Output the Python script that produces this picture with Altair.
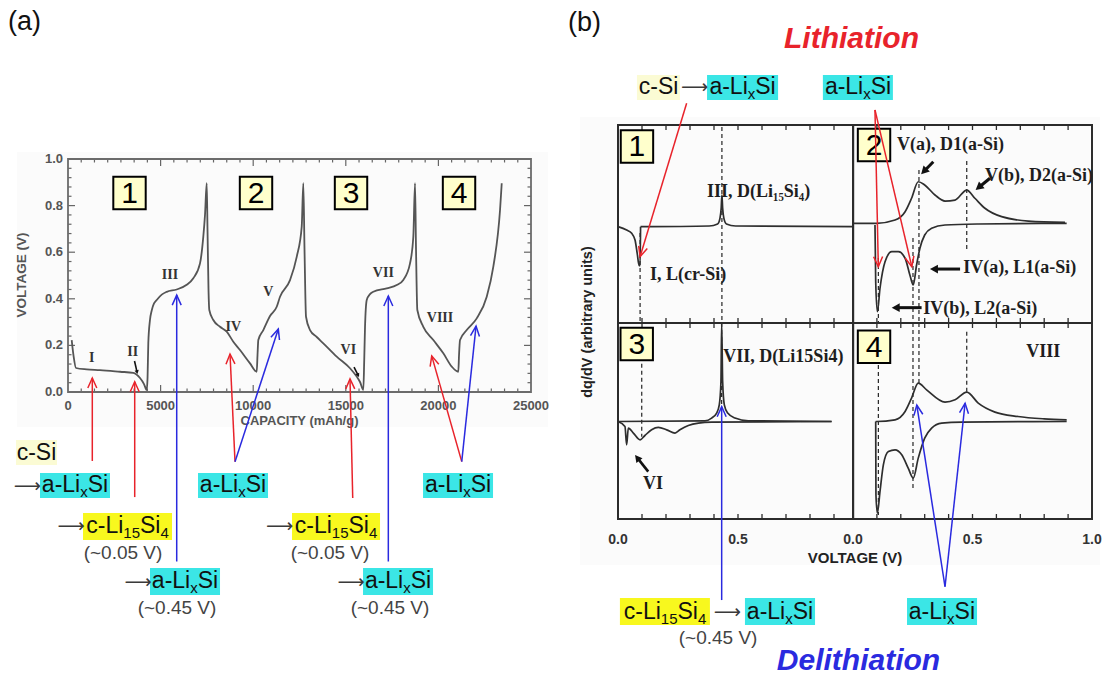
import math
import altair as alt
import pandas as pd

W, H = 1107, 677
SANS = "Liberation Sans"
SERIF = "Liberation Serif"
INK = "#2b2b2b"
GREY = "#555555"
RED = "#E8232B"
BLUE = "#2A2ADF"
CYAN = "#3BE6E6"
YELLOW = "#F8F81E"
CREAM = "#FBFBD4"
BOXFILL = "#FFFFCC"
PANEL_BG = "#FBFBFB"

# ---------------------------------------------------------------- data
# (a) galvanostatic voltage profile, four lithiation / delithiation cycles
cap_a = [200, 300, 432, 1010, 1728, 2808, 3526, 3888, 4104, 4250,
         4295, 4336, 4428, 4520, 4644, 4790, 5060, 5330, 5870, 6410, 6766, 7128, 7306, 7398, 7490,
         7533, 7587, 7630, 7846, 8208, 8570, 8926, 9288, 9828, 10190,
         10233, 10276, 10546, 10908, 11270, 11448, 11988, 12350, 12620, 12706,
         12771, 12852, 13068, 13430, 13786, 14510, 15228, 15590, 15768, 15946,
         15995, 16038, 16130, 16308, 16486, 17210, 17750, 18106, 18468, 18646, 18738,
         18792, 18862, 19186, 19726, 20266, 20720, 21076,
         21114, 21168, 21530, 22070, 22610, 22966, 23328, 23420]
volt_a = [0.223, 0.155, 0.103, 0.097, 0.094, 0.087, 0.082, 0.060, 0.034, 0.009,
          0.060, 0.210, 0.310, 0.350, 0.380, 0.395, 0.418, 0.430, 0.440, 0.460, 0.488, 0.552, 0.667, 0.760, 0.896,
          0.695, 0.438, 0.352, 0.309, 0.280, 0.259, 0.216, 0.180, 0.123, 0.087,
          0.159, 0.223, 0.266, 0.326, 0.366, 0.409, 0.480, 0.580, 0.710, 0.896,
          0.610, 0.323, 0.266, 0.236, 0.209, 0.152, 0.102, 0.066, 0.043, 0.009,
          0.137, 0.280, 0.395, 0.420, 0.430, 0.445, 0.459, 0.481, 0.552, 0.667, 0.896,
          0.610, 0.352, 0.280, 0.223, 0.166, 0.109, 0.087,
          0.159, 0.223, 0.266, 0.316, 0.409, 0.538, 0.781, 0.896]

roman_a = ["I", "II", "III", "IV", "V", "VI", "VII", "VIII"]
roman_a_cap = [1280, 3494, 5508, 8926, 10816, 15136, 17026, 20088]
roman_a_volt = [0.146, 0.173, 0.502, 0.280, 0.430, 0.180, 0.509, 0.316]

cycles = ["1", "2", "3", "4"]
cycle_cap = [3321, 10152, 15282, 21114]

# (b) differential capacity dq/dV, lithiation (lith) and delithiation (delith) branches
p1_lith_v = [0.0, 0.036, 0.057, 0.071, 0.080, 0.088, 0.092, 0.094]
p1_lith_q = [-0.027, -0.061, -0.094, -0.162, -0.296, -0.420, -0.420, -0.027]
p1_delith_v = [0.094, 0.38, 0.415, 0.425, 0.430, 0.433, 0.436, 0.441, 0.452, 0.49, 0.98]
p1_delith_q = [-0.027, -0.020, 0.0, 0.06, 0.16, 0.293, 0.16, 0.06, 0.0, -0.020, -0.027]

p2_delith_v = [0.0, 0.092, 0.099, 0.176, 0.218, 0.245, 0.273, 0.300, 0.343, 0.385, 0.427,
               0.476, 0.510, 0.552, 0.622, 0.734, 0.887]
p2_delith_q = [0.007, 0.007, 0.007, 0.040, 0.124, 0.260, 0.427, 0.394, 0.293, 0.232, 0.242,
               0.343, 0.260, 0.159, 0.074, 0.030, 0.017]
p2_lith_v = [0.092, 0.095, 0.102, 0.113, 0.134, 0.162, 0.190, 0.218, 0.238, 0.252, 0.266,
             0.280, 0.300, 0.329, 0.385, 0.524, 0.894]
p2_lith_q = [-0.010, -0.583, -0.886, -0.649, -0.381, -0.280, -0.280, -0.346, -0.515, -0.616, -0.414,
             -0.245, -0.111, -0.043, -0.010, 0.0, 0.007]

p3_lith_v = [0.0, 0.029, 0.036, 0.043, 0.064, 0.092, 0.112, 0.140, 0.168, 0.203, 0.2375,
             0.258, 0.293, 0.335, 0.390, 0.890]
p3_lith_q = [-0.005, -0.056, -0.243, -0.072, -0.123, -0.192, -0.148, -0.090, -0.066, -0.090, -0.123,
             -0.090, -0.046, -0.021, -0.011, -0.005]
p3_delith_v = [0.0, 0.3625, 0.390, 0.411, 0.422, 0.429, 0.432, 0.436, 0.443, 0.457, 0.4875, 0.543, 0.890]
p3_delith_q = [-0.005, 0.002, 0.030, 0.081, 0.165, 0.403, 1.0, 0.403, 0.165, 0.081, 0.030, 0.002, -0.005]

p4_delith_v = [0.095, 0.099, 0.176, 0.218, 0.245, 0.273, 0.308, 0.385, 0.427, 0.476, 0.524,
               0.594, 0.690, 0.800, 0.894]
p4_delith_q = [-0.005, -0.005, 0.012, 0.097, 0.234, 0.387, 0.318, 0.193, 0.216, 0.295, 0.183,
               0.091, 0.046, 0.022, 0.012]
p4_lith_v = [0.095, 0.096, 0.102, 0.113, 0.127, 0.148, 0.176, 0.204, 0.231, 0.252, 0.273,
             0.300, 0.329, 0.371, 0.455, 0.894]
p4_lith_q = [-0.005, -0.753, -0.940, -0.719, -0.447, -0.311, -0.294, -0.345, -0.481, -0.583, -0.379,
             -0.174, -0.072, -0.021, -0.011, -0.005]

# tick positions and tick labels
xa_labels = [0, 5000, 10000, 15000, 20000, 25000]
xa_minor = [i * 5000 / 7 for i in range(1, 35) if i % 7]
ya_labels = [0.0, 0.2, 0.4, 0.6, 0.8, 1.0]
ya_minor = [i * 0.04 for i in range(1, 25) if i % 5]
vb_ticks = [0.1, 0.2, 0.3, 0.4, 0.5, 0.6, 0.7, 0.8, 0.9]
vb_left_labels = [0.0, 0.5]
vb_right_labels = [0.0, 0.5, 1.0]

# phase labels written as (text, is_subscript) pieces
LIX = [("a-Li", False), ("x", True), ("Si", False)]
LI15 = [("c-Li", False), ("15", True), ("Si", False), ("4", True)]
CSI = [("c-Si", False)]
ARROW = "\u27f6"

# ---------------------------------------------------------------- scales
# (domain, pixel range) of each panel
XA = ((0, 25000), (68, 531))
YA = ((0, 1), (392, 159))
XL = ((0, 0.98), (618, 853.2))
XR = ((0, 1.0), (853, 1092))
YT = ((-1, 1), (323, 125))
YB = ((-1, 1), (519, 323))

CHEVRON = "M -0.45 1 L 0 0 L 0.45 1"
TRIANGLE = "M 0 0 L -0.55 1 L 0.55 1 Z"

# advance widths (em) of the sans glyphs used in the phase labels
EM = {"a": 0.556, "-": 0.333, "L": 0.556, "i": 0.222, "x": 0.5, "S": 0.667,
      "c": 0.5, "1": 0.556, "5": 0.556, "4": 0.556}


def text_width(s, size):
    return sum(EM[ch] for ch in s) * size


def make_scale(spec):
    (d0, d1), (r0, r1) = spec
    return alt.Scale(domain=[d0, d1], range=[r0, r1], nice=False, zero=False)


def ppu(spec):
    (d0, d1), (r0, r1) = spec
    return abs(r1 - r0) / (d1 - d0)


class Panel:
    def __init__(self, xspec, yspec):
        self.xs, self.ys = make_scale(xspec), make_scale(yspec)
        self.sx, self.sy = ppu(xspec), ppu(yspec)
        self.layers = []

    def X(self, f="x"):
        return alt.X(f + ":Q", scale=self.xs, axis=None)

    def Y(self, f="y"):
        return alt.Y(f + ":Q", scale=self.ys, axis=None)

    def rects(self, rows):
        df = pd.DataFrame(rows, columns=["x", "x2", "y", "y2", "fill"])
        self.layers.append(alt.Chart(df).mark_rect(clip=False).encode(
            x=self.X("x"), x2="x2:Q", y=self.Y("y"), y2="y2:Q",
            fill=alt.Fill("fill:N", scale=None)))

    def frames(self, rows, color, width):
        df = pd.DataFrame(rows, columns=["x", "x2", "y", "y2"])
        self.layers.append(alt.Chart(df).mark_rect(
            fillOpacity=0, stroke=color, strokeWidth=width, clip=False).encode(
            x=self.X("x"), x2="x2:Q", y=self.Y("y"), y2="y2:Q"))

    def rules(self, rows, **kw):
        df = pd.DataFrame(rows, columns=["x", "x2", "y", "y2"])
        self.layers.append(alt.Chart(df).mark_rule(clip=False, **kw).encode(
            x=self.X("x"), x2="x2:Q", y=self.Y("y"), y2="y2:Q"))

    def lines(self, series, **kw):
        rows = []
        for name, xv, yv in series:
            for a, b in zip(xv, yv):
                rows.append({"s": name, "x": a, "y": b})
        self.layers.append(alt.Chart(pd.DataFrame(rows)).mark_line(clip=False, **kw).encode(
            x=self.X("x"), y=self.Y("y"), detail="s:N"))

    def texts(self, rows, **kw):
        if not rows:
            return
        df = pd.DataFrame(rows, columns=["t", "x", "y"])
        self.layers.append(alt.Chart(df).mark_text(clip=False, **kw).encode(
            x=self.X("x"), y=self.Y("y"), text="t:N"))

    def phases(self, rows, size=23, sub_size=15, sub_dy=7, color="#111111"):
        """Centred labels with real subscripts; rows are (centre x, centre y, pieces)."""
        normal, sub = [], []
        for cx, cy, pieces in rows:
            total = sum(text_width(t, sub_size if s else size) for t, s in pieces)
            off = -total / 2
            for t, s in pieces:
                (sub if s else normal).append((t, cx + off / self.sx, cy))
                off += text_width(t, sub_size if s else size)
        self.texts(normal, font=SANS, fontSize=size, align="left", baseline="middle", color=color)
        self.texts(sub, font=SANS, fontSize=sub_size, align="left", baseline="middle",
                   dy=sub_dy, color=color)

    def boxes(self, rows):
        df = pd.DataFrame(rows, columns=["t", "x", "y"])
        self.layers.append(alt.Chart(df).mark_square(
            size=1050, fill=BOXFILL, stroke="black", strokeWidth=2, opacity=1, clip=False).encode(
            x=self.X("x"), y=self.Y("y")))
        self.texts(rows, font=SANS, fontSize=30, align="center", baseline="middle", dy=1, color="black")

    def arrows(self, rows, width, head, head_size, filled, back=0.0):
        shafts, heads = [], []
        for x0, y0, x1, y1, c in rows:
            dxp = (x1 - x0) * self.sx
            dyp = -(y1 - y0) * self.sy
            length = math.hypot(dxp, dyp)
            ux, uy = dxp / length, dyp / length
            ang = math.degrees(math.atan2(dxp, -dyp)) % 360
            shafts.append({"x": x0, "y": y0, "x2": x1 - back * ux / self.sx,
                           "y2": y1 + back * uy / self.sy, "c": c})
            heads.append({"x": x1, "y": y1, "a": ang, "c": c})
        self.layers.append(alt.Chart(pd.DataFrame(shafts)).mark_rule(
            strokeWidth=width, clip=False).encode(
            x=self.X("x"), y=self.Y("y"), x2="x2:Q", y2="y2:Q",
            color=alt.Color("c:N", scale=None)))
        self.layers.append(alt.Chart(pd.DataFrame(heads)).mark_point(
            shape=head, size=head_size, filled=filled, opacity=1,
            strokeWidth=width, clip=False).encode(
            x=self.X("x"), y=self.Y("y"), angle=alt.Angle("a:Q", scale=None),
            color=alt.Color("c:N", scale=None)))

    def chart(self):
        return alt.layer(*self.layers)


arrow_kw = dict(font="DejaVu Sans", fontSize=19, align="center", baseline="middle", color="#3a3a3a")
note_kw = dict(font=SANS, fontSize=19, align="center", baseline="middle", color="#444444")
serif_kw = dict(font=SERIF, fontSize=18, fontWeight="bold", baseline="middle", color="#1e1e1e")
tick_a_kw = dict(font=SANS, fontSize=13, fontWeight="bold", baseline="middle", color=GREY)
tick_b_kw = dict(font=SANS, fontSize=14, fontWeight="bold", baseline="middle", align="center", color="#333333")

# ---------------------------------------------------------------- panel (a)
pa = Panel(XA, YA)
pa.rects([
    (-2754, 25920, -0.150, 1.030, PANEL_BG),
    (-2808, -594, -0.313, -0.206, CREAM),
    (-1512, 2268, -0.455, -0.348, CYAN),
    (810, 5616, -0.635, -0.519, YELLOW),
    (4428, 8208, -0.871, -0.755, CYAN),
    (7020, 10800, -0.455, -0.348, CYAN),
    (12096, 16848, -0.635, -0.519, YELLOW),
    (15930, 19710, -0.871, -0.755, CYAN),
    (19170, 22950, -0.455, -0.348, CYAN),
])
tx_min, tx_maj = 3.5 / pa.sy, 7 / pa.sy
ty_min, ty_maj = 3.5 / pa.sx, 7 / pa.sx
tick_rows = []
for c in xa_minor:
    tick_rows += [(c, c, 0, tx_min), (c, c, 1, 1 - tx_min)]
for c in xa_labels[1:-1]:
    tick_rows += [(c, c, 0, tx_maj), (c, c, 1, 1 - tx_maj)]
for v in ya_minor:
    tick_rows += [(0, ty_min, v, v), (25000, 25000 - ty_min, v, v)]
for v in ya_labels[1:-1]:
    tick_rows += [(0, ty_maj, v, v), (25000, 25000 - ty_maj, v, v)]
pa.rules(tick_rows, color="#666666", strokeWidth=1.2)
pa.frames([(0, 25000, 0, 1)], "#6b6b6b", 1.8)

# tick labels and axis titles of (a)
pa.texts([(str(c), c, -0.060) for c in xa_labels], align="center", **tick_a_kw)
pa.texts([(f"{v:.1f}", -270, v) for v in ya_labels], align="right", **tick_a_kw)
pa.texts([("CAPACITY (mAh/g)", 12500, -0.124)], align="center", **tick_a_kw)
pa.texts([("VOLTAGE (V)", -2484, 0.502)], align="center", angle=270,
         font=SANS, fontSize=13.5, fontWeight="bold", baseline="middle", color=GREY)

pa.lines([("profile", cap_a, volt_a)], interpolate="monotone", color="#555555", strokeWidth=1.8)

pa.texts(list(zip(roman_a, roman_a_cap, roman_a_volt)),
         font=SERIF, fontSize=14, fontWeight="bold", align="center", baseline="middle", color="#333333")
pa.boxes(list(zip(cycles, cycle_cap, [0.854] * 4)))
pa.arrows([(3591, 0.133, 3753, 0.077, "#111111"), (15444, 0.107, 15714, 0.064, "#111111")],
          1.6, TRIANGLE, 60, True, back=3)
pa.arrows([
    (1312, -0.296, 1312, 0.060, RED),
    (3602, -0.451, 3602, 0.044, RED),
    (9018, -0.299, 8748, 0.163, RED),
    (15374, -0.455, 15228, 0.056, RED),
    (21260, -0.299, 19640, 0.155, RED),
    (5870, -0.728, 5870, 0.416, BLUE),
    (9018, -0.299, 11356, 0.270, BLUE),
    (17296, -0.728, 17296, 0.412, BLUE),
    (21260, -0.299, 22032, 0.283, BLUE),
], 1.5, CHEVRON, 400, False)

pa.phases([
    (-1701, -0.260, CSI), (378, -0.401, LIX), (3213, -0.577, LI15), (6318, -0.813, LIX),
    (8910, -0.401, LIX), (14472, -0.577, LI15), (17820, -0.813, LIX), (21060, -0.401, LIX),
])
pa.texts([(ARROW, -2187, -0.403), (ARROW, 162, -0.575), (ARROW, 3780, -0.815),
          (ARROW, 11421, -0.575), (ARROW, 15282, -0.815)], **arrow_kw)
pa.texts([("(~0.05 V)", 2970, -0.691), ("(~0.45 V)", 5886, -0.927),
          ("(~0.05 V)", 14148, -0.691), ("(~0.45 V)", 17388, -0.927)], **note_kw)
pa.texts([("(a)", -3240, 1.588)], font=SANS, fontSize=27, align="left", baseline="middle", color="#111111")


def vb_ticks_rows(panel, x_hi):
    ln = 5 / panel.sy
    rows = []
    for v in vb_ticks:
        if v < x_hi:
            rows += [(v, v, 1, 1 - ln), (v, v, -1, -1 + ln)]
    return rows


curve_kw = dict(interpolate="monotone", color="#2e2e2e", strokeWidth=1.7)
dash_kw = dict(color="#111111", strokeWidth=1.1, strokeDash=[4, 3])

# ---------------------------------------------------------------- panel (b), cycle 1
p1 = Panel(XL, YT)
p1.rects([(-0.158, 2.008, -3.444, 1.081, PANEL_BG),
          (0.079, 0.258, 1.253, 1.505, CREAM),
          (0.371, 0.667, 1.253, 1.505, CYAN)])
p1.rules(vb_ticks_rows(p1, 0.98), color=INK, strokeWidth=1.3)
p1.rules([(0.092, 0.092, -0.091, -1.0), (0.433, 0.433, 0.98, -1.0)], **dash_kw)
p1.lines([("lith", p1_lith_v, p1_lith_q), ("delith", p1_delith_v, p1_delith_q)], **curve_kw)
p1.frames([(0, 0.98, -1, 1)], INK, 2)
p1.boxes([("1", 0.079, 0.783)])
p1.texts([("III, D(Li\u2081\u2085Si\u2084)", 0.371, 0.323), ("I, L(cr-Si)", 0.133, -0.515)],
         align="left", **serif_kw)
p1.phases([(0.169, 1.379, CSI), (0.519, 1.379, LIX)])
p1.texts([(ARROW, 0.319, 1.379)], **arrow_kw)
p1.arrows([(0.286, 1.219, 0.092, -0.330, RED)], 1.5, CHEVRON, 400, False)
p1.texts([("(b)", -0.208, 2.030)], font=SANS, fontSize=27, align="left", baseline="middle", color="#111111")
p1.texts([("Lithiation", 0.973, 1.869)], font=SANS, fontSize=30, fontWeight="bold",
         fontStyle="italic", align="center", baseline="middle", color=RED)
p1.texts([("dq/dV (arbitrary units)", -0.125, -0.990)], font=SANS, fontSize=14.5, fontWeight="bold",
         angle=270, align="center", baseline="middle", color="#222222")

# ---------------------------------------------------------------- panel (b), cycle 2
p2 = Panel(XR, YT)
p2.rects([(-0.126, 0.167, 1.253, 1.505, CYAN)])
p2.rules(vb_ticks_rows(p2, 1.0), color=INK, strokeWidth=1.3)
p2.rules([(0.106, 0.106, -0.343, -1.0), (0.251, 0.251, -0.141, -1.0),
          (0.276, 0.276, 0.545, -1.0), (0.476, 0.476, 0.636, -0.283)], **dash_kw)
p2.lines([("lith", p2_lith_v, p2_lith_q), ("delith", p2_delith_v, p2_delith_q)], **curve_kw)
p2.frames([(0, 1.0, -1, 1)], INK, 2)
p2.boxes([("2", 0.088, 0.798)])
p2.texts([("V(a), D1(a-Si)", 0.184, 0.798), ("V(b), D2(a-Si)", 0.552, 0.480),
          ("IV(a), L1(a-Si)", 0.4615, -0.449), ("IV(b), L2(a-Si)", 0.294, -0.854)],
         align="left", **serif_kw)
p2.arrows([(0.336, 0.629, 0.285, 0.502, "#111111"), (0.573, 0.462, 0.513, 0.343, "#111111"),
           (0.448, -0.455, 0.322, -0.455, "#111111"), (0.287, -0.845, 0.162, -0.845, "#111111")],
          3, TRIANGLE, 256, True, back=6)
p2.phases([(0.021, 1.379, LIX)])
p2.arrows([(0.092, 1.152, 0.106, -0.431, RED), (0.092, 1.152, 0.246, -0.431, RED)],
          1.5, CHEVRON, 400, False)

# ---------------------------------------------------------------- panel (b), cycle 3
p3 = Panel(XL, YB)
p3.rects([(0.008, 0.383, -2.082, -1.806, YELLOW), (0.529, 0.821, -2.082, -1.806, CYAN)])
p3.rules(vb_ticks_rows(p3, 0.98), color=INK, strokeWidth=1.3)
p3.rules([(0.099, 0.099, 0.656, -0.160), (0.432, 0.432, 1.0, 0.15)], **dash_kw)
p3.lines([("lith", p3_lith_v, p3_lith_q), ("delith", p3_delith_v, p3_delith_q)], **curve_kw)
p3.frames([(0, 0.98, -1, 1)], INK, 2)
p3.texts([(f"{v:.1f}", v, -1.214) for v in vb_left_labels], **tick_b_kw)
p3.boxes([("3", 0.078, 0.786)])
p3.texts([("VII, D(Li15Si4)", 0.439, 0.658)], align="left", **serif_kw)
p3.texts([("VI", 0.146, -0.643)], align="center", **serif_kw)
p3.arrows([(0.126, -0.517, 0.071, -0.347, "#111111")], 2.6, TRIANGLE, 200, True, back=5)
p3.arrows([(0.432, -1.827, 0.432, 0.146, BLUE)], 1.5, CHEVRON, 400, False)
p3.phases([(0.196, -1.944, LI15), (0.675, -1.944, LIX)])
p3.texts([(ARROW, 0.456, -1.944)], **arrow_kw)
p3.texts([("(~0.45 V)", 0.417, -2.214)], **note_kw)
p3.texts([("VOLTAGE (V)", 0.9875, -1.398)], font=SANS, fontSize=15, fontWeight="bold",
         align="center", baseline="middle", color="#222222")
p3.texts([("Delithiation", 1.002, -2.449)], font=SANS, fontSize=30, fontWeight="bold",
         fontStyle="italic", align="center", baseline="middle", color=BLUE)

# ---------------------------------------------------------------- panel (b), cycle 4
p4 = Panel(XR, YB)
p4.rects([(0.226, 0.519, -2.082, -1.806, CYAN)])
p4.rules(vb_ticks_rows(p4, 1.0), color=INK, strokeWidth=1.3)
p4.rules([(0.106, 0.106, 0.643, -0.959), (0.251, 0.251, 1.0, -0.704),
          (0.276, 0.276, 1.0, 0.388), (0.476, 0.476, 0.911, 0.286)], **dash_kw)
p4.lines([("lith", p4_lith_v, p4_lith_q), ("delith", p4_delith_v, p4_delith_q)], **curve_kw)
p4.frames([(0, 1.0, -1, 1)], INK, 2)
p4.texts([(f"{v:.1f}", v, -1.214) for v in vb_right_labels], **tick_b_kw)
p4.boxes([("4", 0.088, 0.758)])
p4.texts([("VIII", 0.796, 0.707)], align="center", **serif_kw)
p4.phases([(0.372, -1.944, LIX)])
p4.arrows([(0.385, -1.691, 0.267, 0.163, BLUE), (0.385, -1.691, 0.469, 0.181, BLUE)],
          1.5, CHEVRON, 400, False)

chart = alt.layer(pa.chart(), p1.chart(), p2.chart(), p3.chart(), p4.chart()).resolve_scale(
    x="independent", y="independent"
).properties(
    width=W, height=H, autosize=alt.AutoSizeParams(type="none"), padding=0, background="white"
).configure_view(strokeWidth=0)

chart.save("out.html", embed_options={"renderer": "svg", "actions": False})
